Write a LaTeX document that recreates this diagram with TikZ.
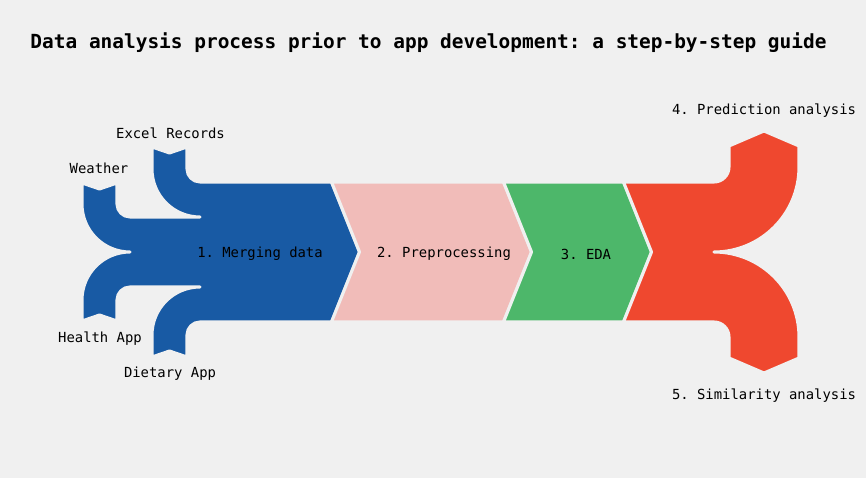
\documentclass[tikz,border=0pt]{standalone}
\usepackage{fontspec}
\setmonofont{DejaVu Sans Mono}
\usepackage{xcolor}
\definecolor{bgray}{RGB}{240,240,240}
\definecolor{mergeblue}{RGB}{24,90,164}
\definecolor{prepink}{RGB}{241,188,185}
\definecolor{edagreen}{RGB}{77,183,106}
\definecolor{outred}{RGB}{239,72,47}

\begin{document}
\begin{tikzpicture}[x=0.72pt,y=-0.72pt,
  flow/.style={draw=bgray,line width=2.2pt,line join=round},
  lbl/.style={font=\ttfamily\fontsize{10}{12}\selectfont}]
% background
\fill[bgray] (0,0) rectangle (866,478);
\useasboundingbox (0,0) rectangle (866,478);
% title
\node[font=\ttfamily\bfseries\fontsize{14}{16}\selectfont] (title) at (428.5,43)
  {Data analysis process prior to app development: a step-by-step guide};
% (1) merging: four inputs, two from top, two from bottom
\fill[mergeblue,flow] (331.5,182) -- (200,182)
  arc[start angle=90,end angle=180,radius=13] -- (187,147) -- (169.5,153) -- (152,147)
  -- (152,169) arc[start angle=180,end angle=90,radius=48]
  -- (130,217) arc[start angle=90,end angle=180,radius=13]
  -- (117,183) -- (99.5,189) -- (82,183)
  -- (82,204) arc[start angle=180,end angle=90,radius=48]
  arc[start angle=270,end angle=180,radius=48]
  -- (82,321) -- (99.5,315) -- (117,321)
  -- (117,300) arc[start angle=180,end angle=270,radius=13]
  -- (200,287) arc[start angle=270,end angle=180,radius=48]
  -- (152,357) -- (169.5,351) -- (187,357)
  -- (187,335) arc[start angle=180,end angle=270,radius=13]
  -- (331.5,322) -- (359.5,252) -- cycle;
% (2) preprocessing
\fill[prepink,flow] (331.5,182) -- (503.5,182) -- (531.5,252) -- (503.5,322)
  -- (331.5,322) -- (359.5,252) -- cycle;
% (3) EDA
\fill[edagreen,flow] (503.5,182) -- (623.5,182) -- (651.5,252) -- (623.5,322)
  -- (503.5,322) -- (531.5,252) -- cycle;
% (4),(5) two outputs, up and down
\fill[outred,flow] (623.5,182) -- (714,182)
  arc[start angle=90,end angle=0,radius=15]
  -- (729,146) -- (764,131) -- (799,146)
  -- (799,167) arc[start angle=0,end angle=90,radius=85]
  arc[start angle=270,end angle=360,radius=85]
  -- (799,358) -- (764,373) -- (729,358)
  -- (729,337) arc[start angle=0,end angle=-90,radius=15]
  -- (623.5,322) -- (651.5,252) -- cycle;
% labels
\node[lbl] (merge) at (260,254) {1. Merging data};
\node[lbl] (prep) at (444,254) {2. Preprocessing};
\node[lbl] (eda) at (586,254) {3. EDA};
\node[lbl] (excel) at (170.5,133) {Excel Records};
\node[lbl] (weather) at (99,168) {Weather};
\node[lbl] (health) at (100,339) {Health App};
\node[lbl] (dietary) at (170,374) {Dietary App};
\node[lbl] (predict) at (764,111) {4. Prediction analysis};
\node[lbl] (similar) at (764,396) {5. Similarity analysis};
\end{tikzpicture}
\end{document}
